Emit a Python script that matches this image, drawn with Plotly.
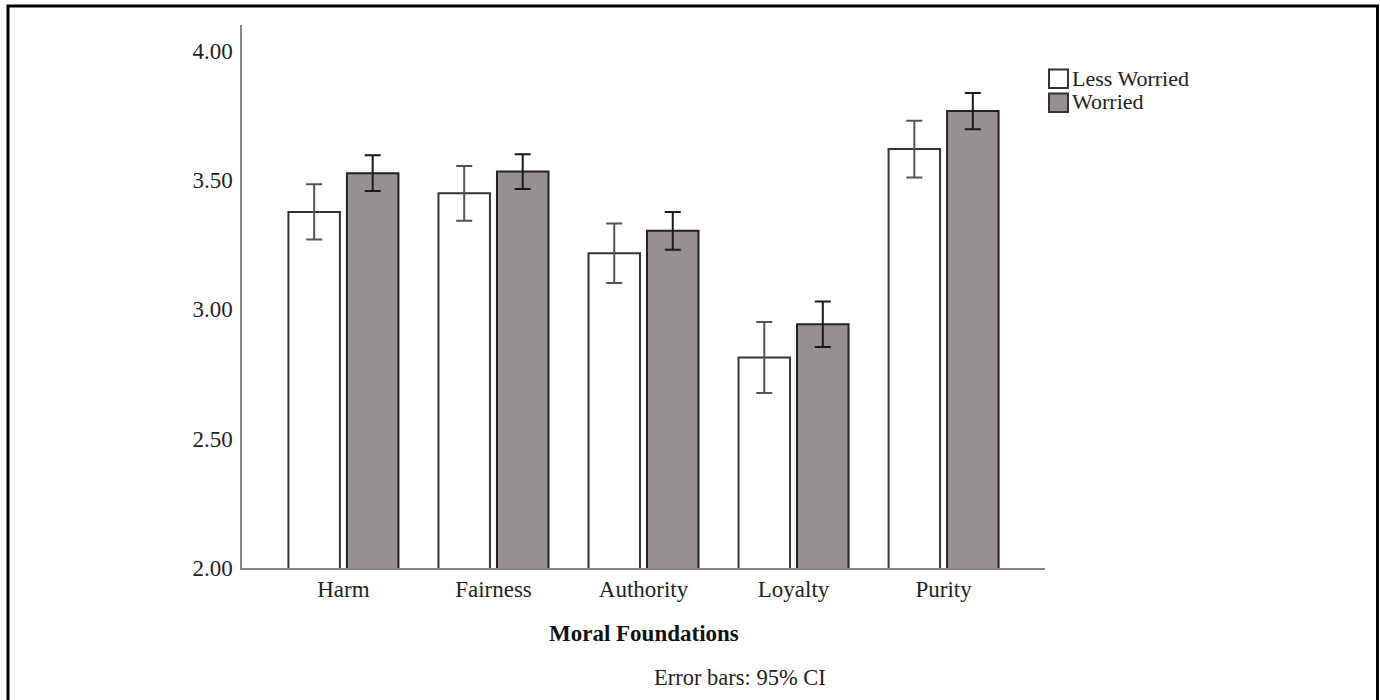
import plotly.graph_objects as go

categories = ["Harm", "Fairness", "Authority", "Loyalty", "Purity"]
less_worried = [3.377, 3.449, 3.217, 2.814, 3.620]
less_worried_err = [0.107, 0.106, 0.115, 0.137, 0.110]
worried = [3.527, 3.533, 3.304, 2.943, 3.767]
worried_err = [0.069, 0.067, 0.073, 0.088, 0.070]
y_ticks = [2.0, 2.5, 3.0, 3.5, 4.0]
y_tick_labels = ["2.00", "2.50", "3.00", "3.50", "4.00"]
series_names = ["Less Worried", "Worried"]

FONT = "Liberation Serif"
LW_FILL = "#ffffff"
W_FILL = "#979090"

fig = go.Figure()
fig.add_trace(go.Bar(
    x=categories, y=less_worried, name=series_names[0],
    marker=dict(color=LW_FILL, line=dict(color="#333333", width=2)),
    error_y=dict(type="data", array=less_worried_err, color="#555555", thickness=2, width=8),
    showlegend=False,
))
fig.add_trace(go.Bar(
    x=categories, y=worried, name=series_names[1],
    marker=dict(color=W_FILL, line=dict(color="#222222", width=2)),
    error_y=dict(type="data", array=worried_err, color="#1a1a1a", thickness=2, width=8),
    showlegend=False,
))

def px_x(x):
    return (x - 242) / 803.0

def px_y(y):
    return (568 - y) / 543.0

shapes = [
    # outer frame
    dict(type="rect", xref="paper", yref="paper",
         x0=px_x(8), x1=px_x(1377.5), y0=px_y(720), y1=px_y(6),
         line=dict(color="#000000", width=3), fillcolor="rgba(0,0,0,0)", layer="below"),
    # legend swatches
    dict(type="rect", xref="paper", yref="paper",
         x0=px_x(1049), x1=px_x(1068), y0=px_y(88), y1=px_y(69.5),
         line=dict(color="#333333", width=2), fillcolor=LW_FILL),
    dict(type="rect", xref="paper", yref="paper",
         x0=px_x(1049), x1=px_x(1068), y0=px_y(112), y1=px_y(93.5),
         line=dict(color="#333333", width=2), fillcolor=W_FILL),
]

annotations = [
    dict(text=series_names[0], xref="paper", yref="paper", x=px_x(1070), y=px_y(79),
         xanchor="left", yanchor="middle", showarrow=False,
         font=dict(family=FONT, size=22, color="#222222")),
    dict(text=series_names[1], xref="paper", yref="paper", x=px_x(1070), y=px_y(102),
         xanchor="left", yanchor="middle", showarrow=False,
         font=dict(family=FONT, size=22, color="#222222")),
    dict(text="<b>Moral Foundations</b>", xref="paper", yref="paper", x=px_x(644), y=px_y(633),
         xanchor="center", yanchor="middle", showarrow=False,
         font=dict(family=FONT, size=23, color="#111111")),
    dict(text="Error bars: 95% CI", xref="paper", yref="paper", x=px_x(740), y=px_y(677),
         xanchor="center", yanchor="middle", showarrow=False,
         font=dict(family=FONT, size=22.5, color="#222222")),
]

fig.update_layout(
    width=1380, height=700,
    margin=dict(l=242, r=335, t=25, b=132),
    paper_bgcolor="white", plot_bgcolor="white",
    barmode="group", bargap=0.22, bargroupgap=0.12,
    font=dict(family=FONT, size=23, color="#222222"),
    shapes=shapes, annotations=annotations,
    showlegend=False,
)
fig.update_xaxes(
    range=[-0.676, 4.676], showline=True, linecolor="#888888", linewidth=1.5,
    showgrid=False, zeroline=False, ticks="", ticklabelstandoff=0,
    tickfont=dict(family=FONT, size=23, color="#222222"),
)
fig.update_yaxes(
    range=[2.0, 4.1], tickvals=y_ticks, ticktext=y_tick_labels,
    showline=True, linecolor="#888888", linewidth=1.5,
    showgrid=False, zeroline=False, ticks="", ticklabelstandoff=3,
    tickfont=dict(family=FONT, size=23, color="#222222"),
)

fig.write_html(
    "out.html",
    config={"displayModeBar": False},
    post_script="document.body.style.margin='0';document.body.style.overflow='hidden';",
)
